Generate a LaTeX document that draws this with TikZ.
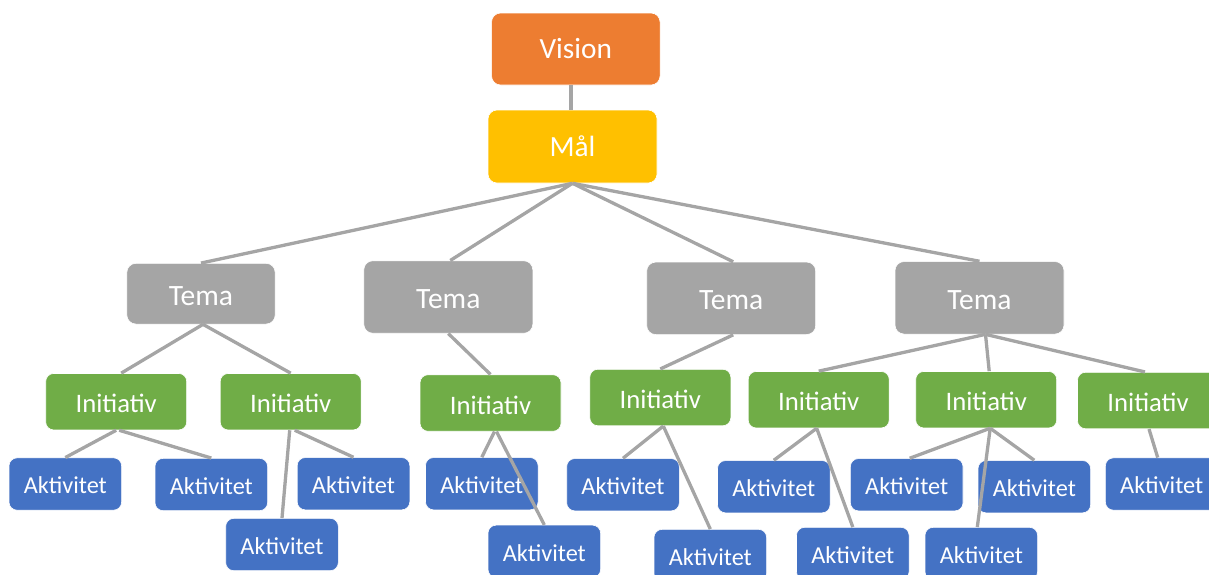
\documentclass[tikz,border=0pt]{standalone}
\usepackage{fontspec}
\setmainfont{Carlito}
\usetikzlibrary{calc}
\definecolor{cvision}{HTML}{ED7D31}
\definecolor{cmal}{HTML}{FFC000}
\definecolor{ctema}{HTML}{A5A5A5}
\definecolor{cinit}{HTML}{70AD47}
\definecolor{cakt}{HTML}{4472C4}
\definecolor{cline}{HTML}{A5A5A5}
\tikzset{
  boxbase/.style={rounded corners=9pt, text=white, inner sep=0pt, draw=white, line width=0.6pt, text depth=0pt},
  visionbox/.style={boxbase, fill=cvision, minimum width=168.5pt, minimum height=72pt, font=\fontsize{29.3}{31}\selectfont, text height=19.9pt},
  malbox/.style={boxbase, fill=cmal, minimum width=169pt, minimum height=73pt, font=\fontsize{29.3}{31}\selectfont, text height=19.9pt},
  temabox/.style={boxbase, fill=ctema, minimum width=169pt, minimum height=72.5pt, font=\fontsize{29.5}{31}\selectfont, text height=23pt},
  initbox/.style={boxbase, rounded corners=8pt, fill=cinit, minimum width=141pt, minimum height=56.5pt, font=\fontsize{26.7}{28}\selectfont, text height=22.2pt},
  aktbox/.style={boxbase, rounded corners=8pt, fill=cakt, minimum width=112.6pt, minimum height=52.3pt, font=\fontsize{24.3}{26}\selectfont, text height=19.6pt},
  conn/.style={draw=cline, line width=3.3pt}
}
\begin{document}
\begin{tikzpicture}[x=1pt,y=-1pt]
\useasboundingbox (0,0) rectangle (1209,574);
\clip (0,0) rectangle (1209,574);
% level 1-2
\node[visionbox] (V) at (575.8,49) {Vision};
\node[malbox] (M) at (572.5,146.5) {Mål};
% Tema
\node[temabox, minimum width=148.3pt, minimum height=60.7pt] (T1) at (201,293.7) {Tema};
\node[temabox] (T2) at (448.3,297) {Tema};
\node[temabox] (T3) at (731.2,298.3) {Tema};
\node[temabox] (T4) at (979.5,297.8) {Tema};
% Initiativ
\node[initbox] (I1) at (116.2,401.7) {Initiativ};
\node[initbox] (I2) at (290.7,401.7) {Initiativ};
\node[initbox] (I3) at (490.5,403) {Initiativ};
\node[initbox] (I4) at (660.3,397.5) {Initiativ};
\node[initbox] (I5) at (818.7,399.7) {Initiativ};
\node[initbox] (I6) at (986.2,399.7) {Initiativ};
\node[initbox] (I7) at (1148,400.5) {Initiativ};
% Aktivitet
\node[aktbox] (A1) at (65.3,484) {Aktivitet};
\node[aktbox] (A2) at (211.3,484.5) {Aktivitet};
\node[aktbox] (A3) at (282,544.5) {Aktivitet};
\node[aktbox] (A4) at (353.5,483.7) {Aktivitet};
\node[aktbox] (A5) at (481.8,483.7) {Aktivitet};
\node[aktbox] (A6) at (544.3,551.3) {Aktivitet};
\node[aktbox] (A7) at (623,484.7) {Aktivitet};
\node[aktbox] (A8) at (710.3,555.5) {Aktivitet};
\node[aktbox] (A9) at (773.8,486.7) {Aktivitet};
\node[aktbox] (A10) at (852.8,553.5) {Aktivitet};
\node[aktbox] (A11) at (906.7,484.7) {Aktivitet};
\node[aktbox] (A12) at (1034.3,486.7) {Aktivitet};
\node[aktbox] (A13) at (981.3,553.5) {Aktivitet};
\node[aktbox] (A14) at (1161.7,484) {Aktivitet};
% connectors
\draw[conn] ([xshift=-1.5pt]M.north |- V.south) -- ([xshift=-1.5pt]M.north);
\draw[conn] (M.south) -- (T1.north);
\draw[conn] (M.south) -- ([xshift=2pt]T2.north);
\draw[conn] (M.south) -- ([xshift=2pt]T3.north);
\draw[conn] (M.south) -- (T4.north);
\draw[conn] ([xshift=2pt]T1.south) -- ([xshift=5pt]I1.north);
\draw[conn] ([xshift=2pt]T1.south) -- (I2.north);
\draw[conn] (T2.south) -- (I3.north);
\draw[conn] ([xshift=2pt]T3.south) -- (I4.north);
\draw[conn] ([xshift=6pt]T4.south) -- (I5.north);
\draw[conn] ([xshift=6pt]T4.south) -- ([xshift=3pt]I6.north);
\draw[conn] ([xshift=6pt]T4.south) -- ([xshift=-3pt]I7.north);
\draw[conn] (I1.south) -- (A1.north);
\draw[conn] ([xshift=3pt]I1.south) -- (A2.north);
\draw[conn] ([xshift=-1pt]I2.south) -- (A3.north);
\draw[conn] ([xshift=4pt]I2.south) -- (A4.north);
\draw[conn] ([xshift=4pt]I3.south) -- (A5.north);
\draw[conn] ([xshift=6pt]I3.south) -- (A6.north);
\draw[conn] ([xshift=3pt]I4.south) -- (A7.north);
\draw[conn] ([xshift=3pt]I4.south) -- (A8.north);
\draw[conn] ([xshift=-2pt]I5.south) -- (A9.north);
\draw[conn] ([xshift=-2pt]I5.south) -- (A10.north);
\draw[conn] ([xshift=4pt]I6.south) -- ([xshift=3pt]A11.north);
\draw[conn] ([xshift=4pt]I6.south) -- (A12.north);
\draw[conn] ([xshift=4pt]I6.south) -- ([xshift=-4pt]A13.north);
\draw[conn] ([xshift=1pt]I7.south) -- ([xshift=-4pt]A14.north);
\end{tikzpicture}
\end{document}
